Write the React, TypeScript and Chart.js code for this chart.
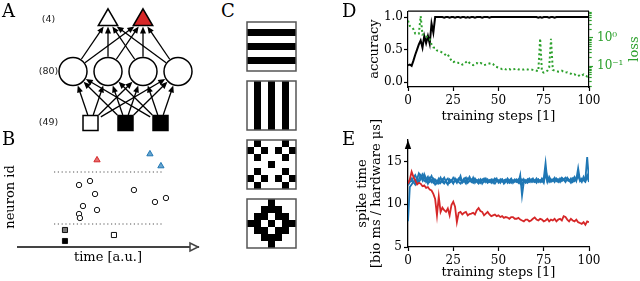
import React, { useEffect, useRef } from 'react';
import { Chart, registerables } from 'chart.js';

Chart.register(...registerables);

const SERIF = '"DejaVu Serif", serif';
const SANS = '"DejaVu Sans", sans-serif';
const BLACK = '#000000';
const GREEN = '#2ca02c';
const BLUE = '#1f77b4';
const RED = '#d62728';

Chart.defaults.font.family = SERIF;

// ---------------- Panel A : network ----------------
const layerNames = ['(49)', '(80)', '(4)'];
const inputPos = [-1, 0, 1];
const inputFill = ['#ffffff', '#000000', '#000000'];
const hiddenPos = [-1.5, -0.5, 0.5, 1.5];
const outputPos = [-0.5, 0.5];
const outputFill = ['#ffffff', RED];

// ---------------- Panel B : raster ----------------
const inputSpikeTime = [26.1, 26.1, 53.3];
const inputSpikeId = [17, 6, 12];
const inputSpikeFill = ['#777777', '#000000', '#ffffff'];
const hiddenSpikeTime = [33.9, 40.0, 42.8, 36.1, 33.9, 34.4, 43.9, 64.4, 76.1, 82.2];
const hiddenSpikeId = [62, 66, 53, 41, 33, 29, 37, 57, 45, 49];
const outputSpikeTime = [43.9, 73.3, 79.4];
const outputSpikeId = [87, 93, 81];
const outputSpikeColor = [RED, BLUE, BLUE];
const separatorIds = [23, 75];
const separatorSpan = [20, 80];

// ---------------- Panel C : patterns ----------------
const patternHorizontal = ['0000000', '1111111', '0000000', '1111111', '0000000', '1111111', '0000000'];
const patternVertical = ['0101010', '0101010', '0101010', '0101010', '0101010', '0101010', '0101010'];
const patternCross = ['0100010', '1010101', '0100010', '0001000', '0100010', '1010101', '0100010'];
const patternDiamond = ['0001000', '0011100', '0110110', '1101011', '0110110', '0011100', '0001000'];

// ---------------- Panel D : accuracy / loss ----------------
const steps = Array.from({ length: 101 }, (_, i) => i);
const stepTicks = [0, 25, 50, 75, 100];
const accuracyTicks = [0, 0.5, 1];
const lossTicks = [0.02, 0.03, 0.04, 0.05, 0.06, 0.07, 0.08, 0.09, 0.1, 0.2, 0.3, 0.4, 0.5, 0.6, 0.7, 0.8, 0.9, 1, 2, 3, 4, 5, 6, 7, 8];
const accuracy = [
  0.26, 0.27, 0.25, 0.33, 0.42, 0.5, 0.58, 0.64, 0.53, 0.71,
  0.6, 0.71, 0.59, 0.9, 0.76, 1.0, 1.0, 1.0, 1.0, 1.0,
  0.99, 1.0, 1.0, 0.99, 1.0, 1.0, 0.99, 1.0, 1.0, 0.99,
  1.0, 1.0, 0.99, 1.0, 0.99, 1.0, 1.0, 0.99, 1.0, 1.0,
  1.0, 0.99, 1.0, 1.0, 1.0, 0.99, 1.0, 1.0, 1.0, 1.0,
  1.0, 1.0, 1.0, 1.0, 1.0, 1.0, 1.0, 1.0, 1.0, 1.0,
  1.0, 1.0, 1.0, 1.0, 1.0, 1.0, 1.0, 1.0, 1.0, 1.0,
  1.0, 1.0, 0.99, 1.0, 0.99, 1.0, 1.0, 1.0, 0.99, 1.0,
  1.0, 0.99, 1.0, 1.0, 1.0, 1.0, 1.0, 1.0, 1.0, 1.0,
  1.0, 1.0, 1.0, 1.0, 1.0, 1.0, 1.0, 1.0, 1.0, 1.0,
  1.0,
];
const loss = [
  4.0, 2.6, 2.4, 2.0, 1.4, 1.35, 1.4, 5.8, 1.3, 1.35,
  1.2, 0.95, 0.9, 0.6, 0.46, 0.45, 0.36, 0.35, 0.33, 0.3,
  0.28, 0.24, 0.26, 0.2, 0.16, 0.14, 0.15, 0.14, 0.13, 0.13,
  0.115, 0.12, 0.14, 0.155, 0.13, 0.115, 0.11, 0.125, 0.13, 0.12,
  0.13, 0.125, 0.11, 0.115, 0.12, 0.125, 0.13, 0.12, 0.1, 0.095,
  0.09, 0.085, 0.08, 0.083, 0.078, 0.075, 0.08, 0.074, 0.078, 0.08,
  0.083, 0.078, 0.08, 0.078, 0.077, 0.08, 0.078, 0.076, 0.077, 0.075,
  0.072, 0.07, 0.068, 0.95, 0.065, 0.06, 0.065, 0.07, 0.09, 0.92,
  0.075, 0.07, 0.068, 0.065, 0.066, 0.07, 0.064, 0.06, 0.062, 0.058,
  0.055, 0.05, 0.052, 0.048, 0.045, 0.05, 0.047, 0.052, 0.046, 0.044,
  0.045,
];

// ---------------- Panel E : spike times ----------------
const spikeTicks = [5, 10, 15];
const spikeCorrect = [
  12.4, 12.9, 13.8, 13.2, 12.8, 12.3, 12.5, 12.4, 12.1, 12.2,
  11.9, 12.0, 11.7, 11.6, 11.2, 10.6, 8.7, 10.9, 9.1, 9.6,
  9.3, 9.1, 9.5, 8.7, 9.9, 10.3, 9.7, 7.9, 9.0, 9.1,
  8.8, 9.0, 9.1, 8.7, 8.85, 8.9, 9.0, 8.8, 9.3, 9.55,
  9.2, 9.1, 8.7, 8.9, 9.1, 8.8, 8.6, 8.7, 8.8, 8.6,
  8.7, 8.5, 8.6, 8.4, 8.5, 8.45, 8.3, 8.5, 8.5, 8.3,
  8.3, 8.4, 8.2, 8.1, 8.0, 8.2, 8.2, 8.0, 8.1, 8.3,
  8.45, 8.2, 8.1, 8.3, 8.2, 8.0, 8.1, 8.3, 8.0, 8.2,
  8.1, 8.3, 8.0, 8.2, 8.3, 8.1, 8.6, 8.5, 8.2, 8.0,
  8.3, 8.1, 8.0, 8.2, 7.9, 7.8, 7.7, 7.9, 7.6, 8.0,
  7.9,
];
const spikeWrongA = [
  8.0, 12.0, 12.3, 12.6, 12.8, 12.5, 12.9, 13.4, 13.1, 12.7,
  12.9, 13.2, 12.6, 12.8, 12.5, 12.9, 12.7, 12.4, 12.6, 12.9,
  12.5, 12.7, 12.4, 12.6, 12.8, 12.5, 12.7, 12.9, 12.6, 12.4,
  12.7, 13.0, 12.6, 12.8, 13.2, 12.7, 12.5, 12.8, 12.6, 12.4,
  12.7, 12.9, 12.6, 12.8, 12.5, 12.7, 12.9, 12.6, 12.4, 12.7,
  12.8, 12.5, 12.9, 12.6, 12.8, 12.7, 12.5, 12.8, 12.6, 12.9,
  12.7, 12.5, 13.4, 11.0, 12.6, 12.8, 12.5, 12.7, 12.9, 12.6,
  12.8, 12.5, 12.9, 12.7, 12.6, 13.0, 14.8, 12.7, 12.9, 12.6,
  12.8, 13.1, 12.7, 12.9, 12.6, 13.0, 12.8, 12.7, 13.1, 12.8,
  12.6, 13.0, 12.7, 12.9, 14.2, 12.8, 12.7, 13.0, 12.9, 15.5,
  12.8,
];
const spikeWrongB = [
  12.5, 12.8, 13.0, 12.6, 12.3, 12.9, 13.6, 13.3, 12.8, 13.5,
  13.0, 12.4, 12.9, 13.3, 12.7, 12.3, 12.6, 13.0, 12.5, 12.8,
  13.1, 12.6, 12.3, 12.9, 12.7, 12.4, 13.0, 12.6, 12.8, 13.3,
  12.5, 12.7, 12.4, 13.0, 12.8, 12.6, 13.1, 12.5, 12.8, 12.6,
  12.9, 12.4, 12.7, 13.0, 12.6, 12.8, 12.5, 12.9, 12.7, 13.0,
  12.5, 12.7, 12.9, 12.4, 12.6, 13.0, 12.7, 12.5, 12.8, 12.6,
  12.9, 12.7, 12.4, 12.9, 12.7, 12.5, 12.8, 13.0, 12.6, 12.8,
  12.7, 13.0, 12.6, 12.8, 12.9, 12.5, 13.6, 12.6, 13.2, 12.8,
  12.9, 12.6, 13.0, 12.8, 12.7, 13.1, 12.9, 12.6, 13.0, 12.8,
  12.5, 12.9, 13.2, 12.7, 13.5, 12.9, 12.6, 13.2, 12.8, 13.4,
  12.9,
];
const spikeWrongC = [
  12.2, 12.6, 12.7, 13.1, 13.4, 12.9, 12.6, 12.9, 13.5, 13.2,
  12.6, 12.9, 13.1, 12.6, 13.0, 12.8, 12.4, 12.7, 13.1, 12.6,
  12.4, 12.8, 13.0, 12.5, 12.7, 13.1, 12.8, 12.5, 13.0, 12.8,
  12.6, 12.9, 13.1, 12.5, 12.7, 12.9, 12.6, 13.0, 12.7, 12.9,
  12.5, 12.8, 13.0, 12.6, 12.9, 12.6, 12.8, 12.5, 13.0, 12.8,
  12.6, 12.9, 12.6, 12.8, 12.9, 12.5, 12.8, 13.0, 12.5, 12.8,
  12.6, 12.9, 12.6, 12.2, 12.9, 12.6, 12.9, 12.6, 12.8, 13.0,
  12.6, 12.7, 12.9, 12.6, 13.0, 12.7, 14.0, 13.1, 12.6, 12.9,
  12.7, 13.0, 12.8, 12.6, 13.0, 12.7, 12.9, 13.1, 12.8, 12.7,
  13.0, 12.6, 12.8, 13.1, 13.4, 12.7, 13.0, 12.8, 12.6, 13.2,
  12.6,
];

// ---------------- shared helpers ----------------
const tickFont = { family: SERIF, size: 12 };
const titleFont = { family: SERIF, size: 13, lineHeight: 1.1 };
const hiddenScale = (min: number, max: number, reverse = false) => ({ type: 'linear', display: false, min, max, reverse });
const baseOptions = {
  responsive: false,
  animation: false,
  events: [],
  plugins: { legend: { display: false }, tooltip: { enabled: false } },
};
const tickGrid = (color: string) => ({
  display: true, drawOnChartArea: false, drawTicks: true, tickLength: 4, tickWidth: 1.2, tickColor: color, color,
});
const setTicks = (values: number[]) => (s: any) => { s.ticks = values.map((v) => ({ value: v })); };
const fixWidth = (w: number) => (s: any) => { s.width = w; };
const fixHeight = (h: number) => (s: any) => { s.height = h; };

// ---------------- plugins ----------------
const networkPlugin = {
  id: 'network',
  beforeDatasetsDraw(chart: any) {
    const { ctx, scales } = chart;
    const X = (v: number) => scales.x.getPixelForValue(v);
    const Y = (v: number) => scales.y.getPixelForValue(v);
    const arrow = (x0: number, y0: number, x1: number, y1: number, startGap: (ux: number, uy: number) => number, endGap: (ux: number, uy: number) => number) => {
      const dx = x1 - x0, dy = y1 - y0, L = Math.hypot(dx, dy), ux = dx / L, uy = dy / L;
      const sg = startGap(ux, uy), eg = endGap(ux, uy);
      const sx = x0 + ux * sg, sy = y0 + uy * sg;
      const ex = x1 - ux * eg, ey = y1 - uy * eg;
      const head = 7, hw = 3;
      const bx = ex - ux * head, by = ey - uy * head;
      ctx.beginPath(); ctx.moveTo(sx, sy); ctx.lineTo(bx + ux, by + uy); ctx.stroke();
      ctx.beginPath(); ctx.moveTo(ex, ey); ctx.lineTo(bx - uy * hw, by + ux * hw); ctx.lineTo(bx + uy * hw, by - ux * hw); ctx.closePath(); ctx.fill();
    };
    ctx.save();
    ctx.strokeStyle = BLACK; ctx.fillStyle = BLACK; ctx.lineWidth = 1.3;
    inputPos.forEach((a) => hiddenPos.forEach((b) => {
      arrow(X(a), Y(0), X(b), Y(1), (ux, uy) => Math.min(8 / Math.abs(uy), 12), () => 14.8);
    }));
    hiddenPos.forEach((a) => outputPos.forEach((b) => {
      arrow(X(a), Y(1), X(b), Y(2), () => 14.8, (ux, uy) => 6.4 / Math.abs(uy));
    }));
    ctx.fillStyle = '#222';
    ctx.font = `9.5px ${SANS}`;
    ctx.textAlign = 'center'; ctx.textBaseline = 'middle';
    layerNames.forEach((t, i) => ctx.fillText(t, X(-2.2), Y(i)));
    ctx.restore();
  },
};

const framePlugin = {
  id: 'cellFrame',
  afterDatasetsDraw(chart: any) {
    const { ctx, chartArea: a } = chart;
    ctx.save(); ctx.strokeStyle = '#555'; ctx.lineWidth = 1.5;
    ctx.strokeRect(a.left, a.top, a.right - a.left, a.bottom - a.top);
    ctx.restore();
  },
};

const timeArrowPlugin = {
  id: 'timeArrow',
  afterDraw(chart: any) {
    const { ctx, chartArea: a } = chart;
    ctx.save(); ctx.strokeStyle = '#444'; ctx.fillStyle = '#fff'; ctx.lineWidth = 1.5;
    ctx.beginPath(); ctx.moveTo(a.right, a.bottom); ctx.lineTo(a.right - 8, a.bottom - 4); ctx.lineTo(a.right - 8, a.bottom + 4); ctx.closePath();
    ctx.fill(); ctx.stroke();
    ctx.restore();
  },
};

const topSpinePlugin = {
  id: 'topSpine',
  afterDraw(chart: any) {
    const { ctx, chartArea: a } = chart;
    ctx.save(); ctx.strokeStyle = BLACK; ctx.lineWidth = 1.2;
    ctx.beginPath(); ctx.moveTo(a.left, a.top); ctx.lineTo(a.right, a.top); ctx.stroke();
    ctx.fillStyle = GREEN; ctx.font = `13px ${SERIF}`; ctx.textAlign = 'center'; ctx.textBaseline = 'middle';
    ctx.translate(a.right + 46, (a.top + a.bottom) / 2); ctx.rotate(-Math.PI / 2);
    ctx.fillText('loss', 0, 0);
    ctx.restore();
  },
};

const yArrowPlugin = {
  id: 'yArrow',
  afterDraw(chart: any) {
    const { ctx, chartArea: a } = chart;
    ctx.save(); ctx.fillStyle = BLACK;
    ctx.beginPath(); ctx.moveTo(a.left, a.top); ctx.lineTo(a.left - 3.2, a.top + 9); ctx.lineTo(a.left + 3.2, a.top + 9); ctx.closePath(); ctx.fill();
    ctx.restore();
  },
};

// ---------------- chart builders ----------------
function buildA() {
  return {
    type: 'scatter',
    data: {
      datasets: [
        { data: inputPos.map((x) => ({ x, y: 0 })), pointStyle: 'rect', pointRadius: 10.6, backgroundColor: inputFill, borderColor: BLACK, borderWidth: 1.5 },
        { data: hiddenPos.map((x) => ({ x, y: 1 })), pointStyle: 'circle', pointRadius: 14, backgroundColor: '#fff', borderColor: BLACK, borderWidth: 1.5 },
        { data: outputPos.map((x) => ({ x, y: 2 })), pointStyle: 'triangle', pointRadius: 11.2, backgroundColor: outputFill, borderColor: BLACK, borderWidth: 1.5 },
      ],
    },
    options: {
      ...baseOptions,
      layout: { padding: 0, autoPadding: false },
      scales: { x: hiddenScale(-3.586, 2.7), y: hiddenScale(-0.33, 2.388) },
    },
    plugins: [networkPlugin],
  };
}

function buildB() {
  return {
    type: 'scatter',
    data: {
      datasets: [
        ...separatorIds.map((id) => ({
          type: 'line', data: separatorSpan.map((t) => ({ x: t, y: id })), borderColor: '#555', borderWidth: 1.2, borderDash: [1.2, 2.6], pointRadius: 0,
        })),
        { data: inputSpikeTime.map((t, i) => ({ x: t, y: inputSpikeId[i] })), pointStyle: 'rect', pointRadius: 3.6, backgroundColor: inputSpikeFill, borderColor: '#111', borderWidth: 1 },
        { data: hiddenSpikeTime.map((t, i) => ({ x: t, y: hiddenSpikeId[i] })), pointStyle: 'circle', pointRadius: 2.7, backgroundColor: '#fff', borderColor: '#111', borderWidth: 1 },
        { data: outputSpikeTime.map((t, i) => ({ x: t, y: outputSpikeId[i] })), pointStyle: 'triangle', pointRadius: 3.6, backgroundColor: outputSpikeColor.map((c) => c + 'aa'), borderColor: outputSpikeColor, borderWidth: 1 },
      ],
    },
    options: {
      ...baseOptions,
      layout: { padding: { top: 7, right: 22, left: 0, bottom: 0 }, autoPadding: false },
      scales: {
        x: {
          type: 'linear', min: 0, max: 100, afterFit: fixHeight(34),
          grid: { display: false }, ticks: { display: false },
          border: { display: true, color: '#444', width: 2 },
          title: { display: true, text: 'time [a.u.]', color: BLACK, font: titleFont, padding: { top: 0, bottom: 16 } },
        },
        y: {
          type: 'linear', min: 0, max: 100, afterFit: fixWidth(18),
          grid: { display: false }, ticks: { display: false }, border: { display: false },
          title: { display: true, text: 'neuron id', color: BLACK, font: titleFont, padding: { top: 3, bottom: 0 } },
        },
      },
    },
    plugins: [timeArrowPlugin],
  };
}

function buildC(pattern: string[]) {
  const cells: { x: number; y: number }[] = [];
  pattern.forEach((row, r) => row.split('').forEach((v, c) => { if (v === '1') cells.push({ x: c, y: r }); }));
  return {
    type: 'scatter',
    data: { datasets: [{ data: cells, pointStyle: 'rect', pointRadius: 7 / Math.SQRT2, backgroundColor: BLACK, borderWidth: 0 }] },
    options: {
      ...baseOptions,
      layout: { padding: 3, autoPadding: false },
      scales: { x: hiddenScale(-0.5, 6.5), y: hiddenScale(-0.5, 6.5, true) },
    },
    plugins: [framePlugin],
  };
}

function stepAxis(height: number, titlePad: number) {
  return {
    type: 'linear', min: 0, max: 100, afterBuildTicks: setTicks(stepTicks), afterFit: fixHeight(height),
    grid: tickGrid(BLACK), border: { display: true, color: BLACK, width: 1.2 },
    ticks: { font: tickFont, color: BLACK, padding: 3, maxRotation: 0, autoSkip: false },
    title: { display: true, text: 'training steps [1]', color: BLACK, font: titleFont, padding: { top: 0, bottom: titlePad } },
  };
}

function buildD() {
  return {
    type: 'line',
    data: {
      datasets: [
        { data: steps.map((s, i) => ({ x: s, y: loss[i] })), yAxisID: 'y2', borderColor: GREEN, borderWidth: 2, borderDash: [2, 2.6], pointRadius: 0, order: 0 },
        { data: steps.map((s, i) => ({ x: s, y: accuracy[i] })), yAxisID: 'y', borderColor: BLACK, borderWidth: 2, pointRadius: 0, order: 1 },
      ],
    },
    options: {
      ...baseOptions,
      layout: { padding: { top: 3, left: 0, right: 0, bottom: 0 }, autoPadding: false },
      scales: {
        x: stepAxis(40, 3),
        y: {
          type: 'linear', position: 'left', min: -0.075, max: 1.09, afterBuildTicks: setTicks(accuracyTicks), afterFit: fixWidth(78),
          grid: tickGrid(BLACK), border: { display: true, color: BLACK, width: 1.2 },
          ticks: { font: tickFont, color: BLACK, padding: 1, callback: (v: number) => v.toFixed(1) },
          title: { display: true, text: 'accuracy', color: BLACK, font: titleFont, padding: { top: 37, bottom: 0 } },
        },
        y2: {
          type: 'logarithmic', position: 'right', min: 0.0188, max: 8.6, afterBuildTicks: setTicks(lossTicks), afterFit: fixWidth(51),
          grid: { ...tickGrid(GREEN), tickBorderDash: (c: any) => (c.tick && (c.tick.value === 0.1 || c.tick.value === 1) ? [] : [2.5, 10]) },
          border: { display: true, color: BLACK, width: 1.2 },
          ticks: { font: tickFont, color: GREEN, padding: 4, autoSkip: false, callback: (v: number) => (v === 1 ? '10⁰' : v === 0.1 ? '10⁻¹' : '') },
        },
      },
    },
    plugins: [topSpinePlugin],
  };
}

function buildE() {
  const line = (values: number[], color: string, order: number) => ({
    data: steps.map((s, i) => ({ x: s, y: values[i] })), borderColor: color, borderWidth: 1.8, pointRadius: 0, order,
  });
  return {
    type: 'line',
    data: {
      datasets: [
        line(spikeCorrect, RED, 0),
        line(spikeWrongA, BLUE, 1),
        line(spikeWrongB, BLUE, 2),
        line(spikeWrongC, BLUE, 3),
      ],
    },
    options: {
      ...baseOptions,
      layout: { padding: { top: 30, left: 0, right: 51, bottom: 0 }, autoPadding: false },
      scales: {
        x: stepAxis(34, 1),
        y: {
          type: 'linear', min: 5, max: 17.5, afterBuildTicks: setTicks(spikeTicks), afterFit: fixWidth(78),
          grid: tickGrid(BLACK), border: { display: true, color: BLACK, width: 1.3 },
          ticks: { font: tickFont, color: BLACK, padding: 2 },
          title: { display: true, text: ['spike time', '[bio ms / hardware μs]'], color: BLACK, font: titleFont, padding: { top: 25, bottom: 0 } },
        },
      },
    },
    plugins: [yArrowPlugin],
  };
}

// ---------------- components ----------------
function ChartCanvas({ left, top, width, height, build }: { left: number; top: number; width: number; height: number; build: () => any }) {
  const ref = useRef<HTMLCanvasElement | null>(null);
  useEffect(() => {
    const chart = new Chart(ref.current as HTMLCanvasElement, build());
    return () => chart.destroy();
  }, []);
  return <canvas ref={ref} width={width} height={height} style={{ position: 'absolute', left, top, width, height }} />;
}

const letterStyle = (left: number, top: number): React.CSSProperties => ({
  position: 'absolute', left, top, fontFamily: SERIF, fontSize: 18, lineHeight: '18px', color: BLACK, margin: 0,
});

export default function App() {
  return (
    <div style={{ position: 'fixed', left: 0, top: 0, width: 640, height: 281, overflow: 'hidden', background: '#fff' }}>
      <ChartCanvas left={0} top={0} width={220} height={140} build={buildA} />
      <ChartCanvas left={0} top={140} width={220} height={141} build={buildB} />
      <ChartCanvas left={244} top={19} width={55} height={55} build={() => buildC(patternHorizontal)} />
      <ChartCanvas left={244} top={78} width={55} height={55} build={() => buildC(patternVertical)} />
      <ChartCanvas left={244} top={137} width={55} height={55} build={() => buildC(patternCross)} />
      <ChartCanvas left={244} top={196} width={55} height={55} build={() => buildC(patternDiamond)} />
      <ChartCanvas left={330} top={110} width={310} height={171} build={buildE} />
      <ChartCanvas left={330} top={0} width={310} height={127} build={buildD} />
      <div style={letterStyle(2, 2)}>A</div>
      <div style={letterStyle(2, 130)}>B</div>
      <div style={letterStyle(221, 2)}>C</div>
      <div style={letterStyle(342, 2)}>D</div>
      <div style={letterStyle(342, 130)}>E</div>
    </div>
  );
}
